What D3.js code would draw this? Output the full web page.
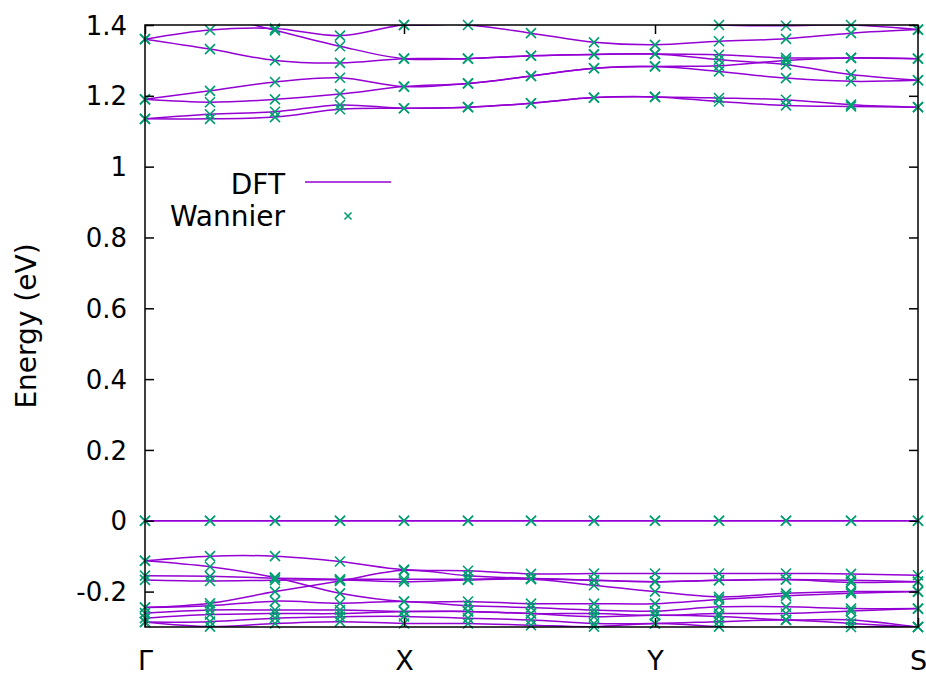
<!DOCTYPE html>
<html>
<head>
<meta charset="utf-8">
<script src="https://cdn.jsdelivr.net/npm/d3@7"></script>
<style>
  body { margin: 0; background: #fff; }
  text { font-family: "DejaVu Sans", sans-serif; }
</style>
</head>
<body>
<div class="canvas"></div>
<script>
// k-path distances of the 13 sampled points and the high-symmetry labels
const kDist = [0, 0.065, 0.130, 0.195, 0.259, 0.323, 0.386, 0.449, 0.510, 0.574, 0.641, 0.706, 0.773];
const kLabels = ['Γ', 'X', 'Y', 'S'];
const kLabelPos = [0, 0.259, 0.510, 0.773];
const yTicks = [1.4, 1.2, 1, 0.8, 0.6, 0.4, 0.2, 0, -0.2];

// conduction bands
const c1 = [1.36, 1.386, 1.39, 1.37, 1.40, 1.40, 1.377, 1.351, 1.344, 1.354, 1.361, 1.377, 1.387];
const c2 = [1.46, 1.43, 1.385, 1.34, 1.305, 1.305, 1.313, 1.317, 1.318, 1.316, 1.307, 1.307, 1.305];
const c3 = [1.36, 1.332, 1.30, 1.293, 1.305, 1.305, 1.313, 1.317, 1.318, 1.302, 1.288, 1.26, 1.244];
const c4 = [1.50, 1.48, 1.45, 1.42, 1.40, 1.405, 1.42, 1.43, 1.415, 1.40, 1.398, 1.40, 1.387];
const c5 = [1.19, 1.214, 1.239, 1.251, 1.226, 1.235, 1.256, 1.278, 1.283, 1.285, 1.30, 1.307, 1.305];
const c6 = [1.19, 1.182, 1.19, 1.205, 1.226, 1.235, 1.256, 1.278, 1.283, 1.269, 1.25, 1.241, 1.244];
const c7 = [1.135, 1.148, 1.155, 1.174, 1.165, 1.168, 1.179, 1.195, 1.197, 1.194, 1.189, 1.175, 1.168];
const c8 = [1.135, 1.135, 1.14, 1.162, 1.165, 1.168, 1.179, 1.195, 1.197, 1.184, 1.173, 1.17, 1.168];

// flat bands at the Fermi level
const f1 = [0, 0, 0, 0, 0, 0, 0, 0, 0, 0, 0, 0, 0];
const f2 = [0, 0, 0, 0, 0, 0, 0, 0, 0, 0, 0, 0, 0];

// valence bands
const v1 = [-0.113, -0.100, -0.100, -0.115, -0.138, -0.141, -0.150, -0.149, -0.149, -0.149, -0.149, -0.150, -0.154];
const v2 = [-0.113, -0.130, -0.160, -0.205, -0.228, -0.228, -0.234, -0.234, -0.234, -0.222, -0.212, -0.205, -0.200];
const v3 = [-0.245, -0.233, -0.200, -0.170, -0.140, -0.155, -0.163, -0.168, -0.172, -0.168, -0.166, -0.168, -0.172];
const v4 = [-0.155, -0.157, -0.162, -0.165, -0.165, -0.165, -0.163, -0.168, -0.172, -0.168, -0.166, -0.174, -0.172];
const v5 = [-0.167, -0.170, -0.168, -0.167, -0.172, -0.167, -0.165, -0.182, -0.200, -0.215, -0.205, -0.200, -0.200];
const v6 = [-0.245, -0.240, -0.227, -0.233, -0.228, -0.240, -0.245, -0.252, -0.255, -0.243, -0.243, -0.248, -0.248];
const v7 = [-0.261, -0.252, -0.252, -0.252, -0.256, -0.256, -0.262, -0.262, -0.267, -0.262, -0.262, -0.255, -0.248];
const v8 = [-0.275, -0.265, -0.262, -0.262, -0.256, -0.256, -0.262, -0.271, -0.267, -0.270, -0.280, -0.280, -0.300];
const v9 = [-0.286, -0.285, -0.275, -0.271, -0.270, -0.275, -0.280, -0.290, -0.290, -0.285, -0.280, -0.290, -0.300];
const v10 = [-0.286, -0.299, -0.290, -0.285, -0.290, -0.290, -0.295, -0.299, -0.290, -0.299, -0.310, -0.300, -0.300];

const bands = [c1, c2, c3, c4, c5, c6, c7, c8, f1, f2, v1, v2, v3, v4, v5, v6, v7, v8, v9, v10];

const dftColor = '#9400d3';
const wanColor = '#009e73';

const svg = d3.select('.canvas')
              .append('svg')
              .attr('width', 926)
              .attr('height', 675);

const margin = {top: 25, right: 8, bottom: 48, left: 145};
const graphWidth = 926 - margin.left - margin.right;
const graphHeight = 675 - margin.top - margin.bottom;

const graph = svg.append('g')
                 .attr('transform', `translate(${margin.left}, ${margin.top})`);

const x = d3.scaleLinear()
            .domain([0, 0.773])
            .range([0, graphWidth]);
const y = d3.scaleLinear()
            .domain([-0.3, 1.4])
            .range([graphHeight, 0]);

svg.append('defs').append('clipPath')
   .attr('id', 'plotclip')
   .append('rect')
   .attr('width', graphWidth)
   .attr('height', graphHeight);

// DFT lines
const line = d3.line()
               .x((d, i) => x(kDist[i]))
               .y(d => y(d))
               .curve(d3.curveCatmullRom.alpha(0.5));

graph.append('g')
     .attr('clip-path', 'url(#plotclip)')
     .selectAll('path')
     .data(bands)
     .enter()
     .append('path')
     .attr('d', line)
     .attr('fill', 'none')
     .attr('stroke', dftColor)
     .attr('stroke-width', 1.5);

// Wannier crosses
const pts = [];
bands.forEach(b => b.forEach((v, i) => {
    if (v >= -0.302 && v <= 1.402) pts.push({k: kDist[i], e: v});
}));
const cross = s => `M${-s},${-s}L${s},${s}M${-s},${s}L${s},${-s}`;

graph.append('g')
     .selectAll('path')
     .data(pts)
     .enter()
     .append('path')
     .attr('d', cross(5))
     .attr('transform', d => `translate(${x(d.k)}, ${y(d.e)})`)
     .attr('fill', 'none')
     .attr('stroke', wanColor)
     .attr('stroke-width', 1.6);

// Axes: ticks inward on all sides
const tickLen = 9;
const yAxisL = d3.axisLeft(y).tickValues(yTicks).tickSize(-tickLen).tickFormat(d3.format('~g'));
const yAxisR = d3.axisRight(y).tickValues(yTicks).tickSize(-tickLen).tickFormat('');
const xAxisB = d3.axisBottom(x).tickValues(kLabelPos).tickSize(-tickLen).tickFormat((d, i) => kLabels[i]);
const xAxisT = d3.axisTop(x).tickValues(kLabelPos).tickSize(-tickLen).tickFormat('');

const yl = graph.append('g').call(yAxisL);
graph.append('g').attr('transform', `translate(${graphWidth}, 0)`).call(yAxisR);
const xb = graph.append('g').attr('transform', `translate(0, ${graphHeight})`).call(xAxisB);
graph.append('g').call(xAxisT);

graph.selectAll('.domain').remove();
graph.selectAll('.tick line').attr('stroke', '#000').attr('stroke-width', 1.5);

yl.selectAll('text')
  .attr('x', -18)
  .attr('dy', '0.35em')
  .style('font-size', '26px')
  .attr('fill', '#000')
  .text(d => d === 0 ? '0' : d3.format('~g')(d).replace('−', '-'));

xb.selectAll('text')
  .attr('y', 43)
  .attr('dy', null)
  .style('font-size', '27px')
  .attr('fill', '#000');

// border
graph.append('rect')
     .attr('width', graphWidth)
     .attr('height', graphHeight)
     .attr('fill', 'none')
     .attr('stroke', '#000')
     .attr('stroke-width', 1.5);

// y axis title
svg.append('text')
   .attr('transform', `translate(36, ${margin.top + graphHeight / 2}) rotate(-90)`)
   .attr('text-anchor', 'middle')
   .style('font-size', '28px')
   .text('Energy (eV)');

// legend
const legend = svg.append('g');
legend.append('text')
      .attr('x', 285).attr('y', 184).attr('dy', '0.35em')
      .attr('text-anchor', 'end')
      .style('font-size', '28px')
      .text('DFT');
legend.append('line')
      .attr('x1', 305).attr('x2', 391)
      .attr('y1', 182).attr('y2', 182)
      .attr('stroke', dftColor)
      .attr('stroke-width', 1.5);
legend.append('text')
      .attr('x', 285).attr('y', 216).attr('dy', '0.35em')
      .attr('text-anchor', 'end')
      .style('font-size', '28px')
      .text('Wannier');
legend.append('path')
      .attr('d', cross(3.5))
      .attr('transform', 'translate(348, 216)')
      .attr('fill', 'none')
      .attr('stroke', wanColor)
      .attr('stroke-width', 1.6);
</script>
</body>
</html>
